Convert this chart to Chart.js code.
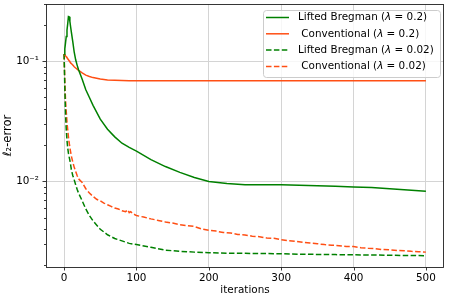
<!DOCTYPE html>
<html><head><meta charset="utf-8">
<script src="https://cdn.jsdelivr.net/npm/chart.js@4.4.0/dist/chart.umd.min.js"></script>
<style>html,body{margin:0;padding:0;background:#fff;}#wrap{width:449px;height:299px;}</style>
</head><body><div id="wrap"><canvas id="c" width="449" height="299"></canvas></div>
<script>
const iterations = [0,1,2,3,4,5,6,7,8,9,10,12,14,16,18,20,25,30,35,40,50,60,70,80,90,100,120,140,160,180,200,225,250,275,300,325,350,375,400,425,450,475,500];
const lifted02  = [0.114,0.127,0.143,0.161,0.182,0.205,0.236,0.235,0.215,0.194,0.176,0.146,0.119,0.103,0.093,0.085,0.071,0.058,0.050,0.043,0.033,0.0272,0.0235,0.0208,0.0192,0.0179,0.0152,0.0133,0.0119,0.0108,0.0100,0.0096,0.0094,0.0094,0.0094,0.0093,0.0092,0.0091,0.0090,0.0089,0.0087,0.0085,0.0083];
const conv02    = [0.115,0.113,0.111,0.109,0.107,0.105,0.103,0.101,0.099,0.097,0.096,0.093,0.090,0.088,0.086,0.084,0.080,0.0768,0.0748,0.0732,0.0712,0.0700,0.0695,0.0692,0.0690,0.0690,0.0690,0.0690,0.0690,0.0690,0.0690,0.0690,0.0690,0.0690,0.0690,0.0690,0.0690,0.0690,0.0690,0.0690,0.0690,0.0690,0.0690];
const lifted002 = [0.115,0.060,0.036,0.027,0.022,0.019,0.0172,0.0160,0.0150,0.0138,0.0126,0.0112,0.0103,0.0094,0.0086,0.0080,0.0069,0.0059,0.0052,0.0047,0.0040,0.0036,0.00335,0.0032,0.00305,0.00298,0.00283,0.00268,0.00262,0.00258,0.00255,0.00253,0.00252,0.00251,0.00250,0.00248,0.00247,0.00246,0.00245,0.00244,0.00243,0.00242,0.00241];
const iterationsConv002 = [0,1,2,3,4,5,6,7,8,9,10,12,14,16,18,20,25,30,35,40,45,50,55,60,65,70,75,80,85,88,90,92,95,100,110,120,130,140,150,160,170,180,190,200,210,220,230,240,250,260,270,280,290,300,310,320,330,340,350,360,370,380,390,400,410,420,430,440,450,460,470,480,490,500];
const conv002   = [0.115,0.068,0.047,0.038,0.031,0.027,0.0235,0.0210,0.0192,0.0176,0.0163,0.0145,0.0131,0.0121,0.0112,0.0105,0.0098,0.0087,0.0080,0.0075,0.0071,0.0069,0.0066,0.0064,0.0062,0.0060,0.0059,0.0057,0.0056,0.0058,0.0055,0.0056,0.0054,0.0052,0.00505,0.00488,0.00474,0.00460,0.00450,0.00436,0.00428,0.00422,0.00402,0.00392,0.00386,0.00376,0.00372,0.00362,0.00359,0.00350,0.00347,0.00338,0.00336,0.00327,0.00321,0.00317,0.00311,0.00307,0.00303,0.00298,0.00295,0.00292,0.00287,0.00287,0.00281,0.00278,0.00276,0.00271,0.00270,0.00266,0.00265,0.00262,0.00260,0.00258];
const seriesLabels = ['Lifted Bregman (λ = 0.2)', ' Conventional (λ = 0.2)', 'Lifted Bregman (λ = 0.02)', ' Conventional (λ = 0.02)'];
const xTickValues = [0,100,200,300,400,500];

const FONT = 'DejaVu Sans';
const FS = 10.4;
const GREEN = '#008000', ORANGE = '#ff4f14';

function pts(xs, arr){ return xs.map((x,i)=>({x:x, y:arr[i]})); }
function sup(n){ const m={'-':'⁻','0':'⁰','1':'¹','2':'²','3':'³','4':'⁴','5':'⁵','6':'⁶','7':'⁷','8':'⁸','9':'⁹'}; return String(n).split('').map(c=>m[c]).join(''); }
function isMajor(v){ const l=Math.log10(v); return Math.abs(l-Math.round(l))<1e-6; }

const framePlugin = {
  id:'frame',
  afterDraw(chart){
    const ctx=chart.ctx, a=chart.chartArea;
    const xs=chart.scales.x, ys=chart.scales.y;
    ctx.save();
    ctx.strokeStyle='#222'; ctx.lineWidth=0.9;
    ctx.strokeRect(Math.round(a.left)+0.5, Math.round(a.top)+0.5, Math.round(a.right-a.left)-1, Math.round(a.bottom-a.top));
    ctx.beginPath();
    xs.ticks.forEach(t=>{ const px=Math.round(xs.getPixelForValue(t.value))+0.5; ctx.moveTo(px,a.bottom); ctx.lineTo(px,a.bottom+3.5); });
    ys.ticks.forEach(t=>{ const py=Math.round(ys.getPixelForValue(t.value))+0.5; const L=isMajor(t.value)?3.5:2; ctx.moveTo(a.left,py); ctx.lineTo(a.left-L,py); });
    ctx.stroke();
    ctx.restore();
  }
};

const legendPlugin = {
  id:'mplLegend',
  afterDraw(chart){
    const ctx=chart.ctx, a=chart.chartArea;
    const x0=a.right-181, y0=a.top+6, w=177, h=67;
    ctx.save();
    ctx.beginPath();
    if (ctx.roundRect) ctx.roundRect(x0+0.5,y0+0.5,w,h,3); else ctx.rect(x0+0.5,y0+0.5,w,h);
    ctx.fillStyle='rgba(255,255,255,0.8)'; ctx.fill();
    ctx.strokeStyle='#cccccc'; ctx.lineWidth=1; ctx.stroke();
    chart.data.datasets.forEach((ds,i)=>{
      const cy=y0+7.5+i*16.3;
      ctx.beginPath();
      ctx.setLineDash(ds.borderDash||[]);
      ctx.strokeStyle=ds.borderColor; ctx.lineWidth=ds.borderWidth;
      ctx.moveTo(x0+3,cy); ctx.lineTo(x0+26,cy); ctx.stroke();
      ctx.setLineDash([]);
      ctx.fillStyle='#000'; ctx.textBaseline='middle';
      let tx=x0+35;
      const parts=ds.label.split('λ');
      parts.forEach((p,k)=>{
        ctx.font=FS+'px "'+FONT+'"';
        ctx.fillText(p,tx,cy); tx+=ctx.measureText(p).width;
        if(k<parts.length-1){ ctx.font='italic '+FS+'px "'+FONT+'"'; ctx.fillText('λ',tx,cy); tx+=ctx.measureText('λ').width; }
      });
    });
    ctx.restore();
  }
};

const dash=[5.5,2.4];
new Chart(document.getElementById('c'),{
  type:'line',
  data:{datasets:[
    {label:seriesLabels[0], data:pts(iterations, lifted02), borderColor:GREEN, borderWidth:1.5},
    {label:seriesLabels[1], data:pts(iterations, conv02), borderColor:ORANGE, borderWidth:1.5},
    {label:seriesLabels[2], data:pts(iterations, lifted002), borderColor:GREEN, borderWidth:1.5, borderDash:dash},
    {label:seriesLabels[3], data:pts(iterationsConv002, conv002), borderColor:ORANGE, borderWidth:1.5, borderDash:dash}
  ]},
  options:{
    responsive:false, animation:false, devicePixelRatio:1,
    elements:{point:{radius:0}, line:{tension:0, fill:false}},
    layout:{padding:{top:4,right:5,left:0,bottom:0}},
    plugins:{legend:{display:false}, tooltip:{enabled:false}},
    scales:{
      x:{type:'linear', min:-25, max:525,
        afterBuildTicks(s){ s.ticks=xTickValues.map(v=>({value:v})); },
        afterFit(s){ s.height=32; s.paddingLeft=0; s.paddingRight=0; },
        grid:{color:'#d4d4d4', lineWidth:1, drawTicks:false},
        border:{display:false},
        ticks:{padding:5, color:'#000', font:{family:FONT,size:FS}, autoSkip:false, maxRotation:0, callback:v=>String(v)},
        title:{display:true, text:'iterations', color:'#000', font:{family:FONT,size:FS}, padding:{top:0,bottom:2}}
      },
      y:{type:'logarithmic', min:0.00194, max:0.30,
        afterBuildTicks(s){ const t=[]; for(let e=-3;e<=0;e++){ for(let m=1;m<=9;m++){ const v=parseFloat((m*Math.pow(10,e)).toPrecision(6)); if(v>=s.min*0.9999 && v<=s.max*1.0001) t.push({value:v}); } } s.ticks=t; },
        afterFit(s){ s.width=46; s.paddingTop=0; s.paddingBottom=0; },
        grid:{color:c=> (c.tick && isMajor(c.tick.value)) ? '#d4d4d4' : 'rgba(0,0,0,0)', lineWidth:1, drawTicks:false},
        border:{display:false},
        ticks:{padding:7, color:'#000', font:{family:FONT,size:FS}, autoSkip:false, callback:v=> isMajor(v) ? '10'+sup(Math.round(Math.log10(v))) : ''},
        title:{display:true, text:'ℓ₂-error', color:'#000', font:{family:FONT,size:11.5}, padding:{top:1,bottom:0}}
      }
    }
  },
  plugins:[framePlugin, legendPlugin]
});
</script>
</body></html>
